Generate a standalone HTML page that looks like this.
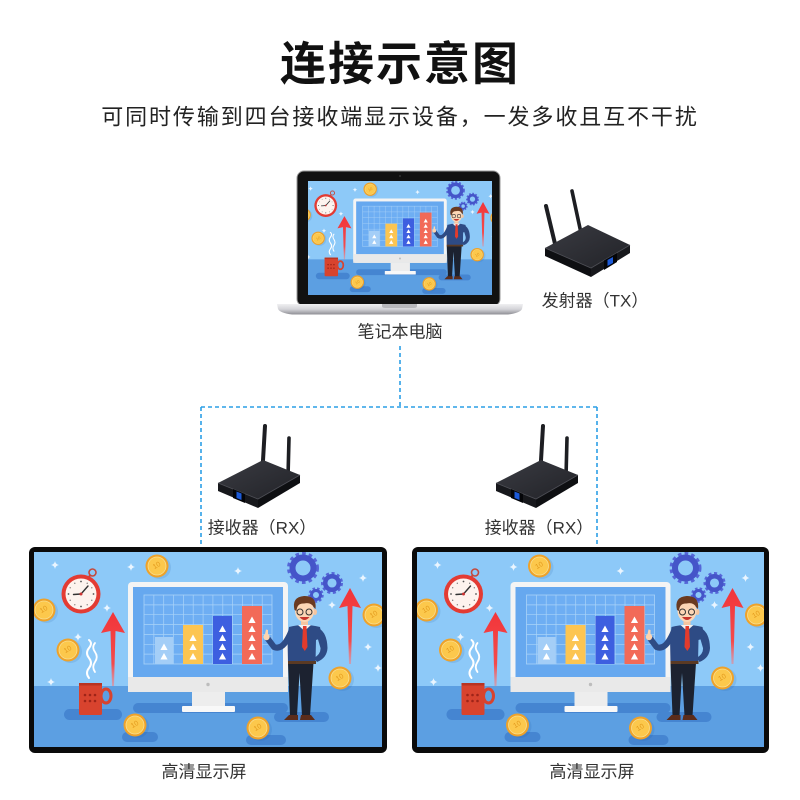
<!DOCTYPE html>
<html><head><meta charset="utf-8"><style>
html,body{margin:0;padding:0;background:#fff;}
svg{display:block;}
text{font-family:"Liberation Sans","Noto Sans CJK SC",sans-serif;}
</style></head><body>
<svg width="800" height="800" viewBox="0 0 800 800" xmlns="http://www.w3.org/2000/svg">
<defs>
  <linearGradient id="arr" x1="0" y1="0" x2="0" y2="1">
    <stop offset="0" stop-color="#f2353a"/><stop offset="0.7" stop-color="#f44a4a"/><stop offset="1" stop-color="#f77" stop-opacity="0.5"/>
  </linearGradient>
  <linearGradient id="rtop" x1="0" y1="0" x2="1" y2="1">
    <stop offset="0" stop-color="#3a3b42"/><stop offset="1" stop-color="#222328"/>
  </linearGradient>
  <linearGradient id="silver" x1="0" y1="0" x2="0" y2="1">
    <stop offset="0" stop-color="#f0f0f2"/><stop offset="0.5" stop-color="#d4d4d8"/><stop offset="1" stop-color="#8e8e94"/>
  </linearGradient>
  <path id="spk" d="M0 -4 Q0.6 -0.6 4 0 Q0.6 0.6 0 4 Q-0.6 0.6 -4 0 Q-0.6 -0.6 0 -4Z" fill="#eaf5ff"/>
  <path id="tri" d="M0 -3.5 L3.6 3 L-3.6 3Z" fill="#fff"/>
  <g id="coin">
    <circle cx="2.5" cy="1.5" r="11.5" fill="#1b4f9a" opacity="0.12"/>
    <circle r="11.5" fill="#eea22a"/>
    <circle r="9" fill="#fcc84c" stroke="#f8df90" stroke-width="0.8"/>
    <text x="0" y="0" font-size="7" fill="#e39a1d" text-anchor="middle" dominant-baseline="central" transform="rotate(-30)">10</text>
  </g>
  <g id="rx">
    <line x1="47" y1="1" x2="44.5" y2="44" stroke="#1d1e22" stroke-width="4" stroke-linecap="round"/>
    <line x1="71" y1="13" x2="70" y2="52" stroke="#1d1e22" stroke-width="3.6" stroke-linecap="round"/>
    <polygon points="0,58 40,74 40,83 0,66" fill="#17181c"/>
    <polygon points="40,74 82,50 82,58 40,83" fill="#0e0f12"/>
    <polygon points="0,58 45,35 82,50 40,74" fill="url(#rtop)"/>
    <polyline points="0,58 40,74 82,50" stroke="#4d4e55" stroke-width="0.8" fill="none"/>
    <polygon points="15,64 27,69 27,78 15,73" fill="#040508"/>
    <polygon points="18.5,66.5 23.5,68.5 23.5,75 18.5,73" fill="#1c5ad8"/>
  </g>
  <symbol id="scene" viewBox="0 0 348 195" preserveAspectRatio="xMidYMid slice">
    <rect width="348" height="195" fill="#8dc9f8"/>
    <rect y="134" width="348" height="61" fill="#5c9fe2"/>
    <rect x="30" y="157" width="58" height="11" rx="5.5" fill="#4585d1"/>
    <rect x="99" y="151" width="155" height="10" rx="5" fill="#4585d1"/>
    <rect x="240" y="160" width="55" height="10" rx="5" fill="#4585d1"/>
    <rect x="88" y="180" width="36" height="10" rx="5" fill="#4585d1"/>
    <rect x="212" y="183" width="40" height="10" rx="5" fill="#4585d1"/>
    <!-- sparkles -->
    <use href="#spk" x="21" y="13"/><use href="#spk" x="97" y="15"/><use href="#spk" x="204" y="19"/>
    <use href="#spk" x="73" y="56"/><use href="#spk" x="17" y="130"/><use href="#spk" x="329" y="26"/>
    <use href="#spk" x="298" y="53"/><use href="#spk" x="334" y="95"/><use href="#spk" x="344" y="116"/>
    <use href="#spk" x="44" y="85"/>
    <!-- gears -->
    <g fill="none">
      <circle cx="269" cy="16" r="14" stroke="#5566d8" stroke-width="4" stroke-dasharray="3.5 3"/>
      <circle cx="269" cy="16" r="10.5" stroke="#4555c9" stroke-width="6"/>
      <circle cx="298" cy="31" r="9.5" stroke="#5566d8" stroke-width="3" stroke-dasharray="3 2.5"/>
      <circle cx="298" cy="31" r="6.8" stroke="#4555c9" stroke-width="4.5"/>
      <circle cx="282" cy="43" r="6.5" stroke="#5566d8" stroke-width="2.5" stroke-dasharray="2.5 2"/>
      <circle cx="282" cy="43" r="4.5" stroke="#4555c9" stroke-width="3"/>
    </g>
    <!-- coins -->
    <use href="#coin" x="123" y="14"/><use href="#coin" x="10" y="58"/><use href="#coin" x="34" y="98"/>
    <use href="#coin" x="101" y="173"/><use href="#coin" x="224" y="176"/><use href="#coin" x="306" y="126"/>
    <use href="#coin" x="340" y="63"/>
    <!-- clock -->
    <circle cx="58.5" cy="20.5" r="3.5" fill="none" stroke="#c4493c" stroke-width="1.6"/>
    <line x1="56" y1="23.5" x2="54.5" y2="25.5" stroke="#c4493c" stroke-width="2"/>
    <circle cx="47" cy="42" r="19.5" fill="#e33b33"/>
    <circle cx="47" cy="42" r="15.5" fill="#fdf3ee"/>
    <g fill="#555">
      <circle cx="47" cy="29.5" r="0.9"/><circle cx="47" cy="54.5" r="0.9"/><circle cx="34.5" cy="42" r="0.9"/><circle cx="59.5" cy="42" r="0.9"/>
      <circle cx="53.2" cy="31.2" r="0.6"/><circle cx="57.8" cy="35.8" r="0.6"/><circle cx="57.8" cy="48.2" r="0.6"/><circle cx="53.2" cy="52.8" r="0.6"/>
      <circle cx="40.8" cy="52.8" r="0.6"/><circle cx="36.2" cy="48.2" r="0.6"/><circle cx="36.2" cy="35.8" r="0.6"/><circle cx="40.8" cy="31.2" r="0.6"/>
    </g>
    <line x1="47" y1="42" x2="54" y2="34" stroke="#333" stroke-width="1.4" stroke-linecap="round"/>
    <line x1="47" y1="42" x2="39.5" y2="42.5" stroke="#333" stroke-width="1.4" stroke-linecap="round"/>
    <circle cx="47" cy="42" r="1.5" fill="#c33"/>
    <!-- arrows -->
    <polygon points="79,60 91,81 81.5,79 80,134 78,134 76.5,79 67,81" fill="url(#arr)"/>
    <polygon points="316,36 327,56 318.5,54 317,112 315,112 313.5,54 305,56" fill="url(#arr)"/>
    <!-- steam -->
    <path d="M55 126 q-4 -5 0 -10 q4 -5 0 -10 q-4 -5 0 -10 q4 -5 0 -8" stroke="#fff" stroke-width="2" fill="none" stroke-linecap="round"/>
    <path d="M61 120 q-3.5 -5 0 -10 q3.5 -5 0 -10 q-3.5 -5 0 -9" stroke="#fff" stroke-width="1.8" fill="none" stroke-linecap="round"/>
    <!-- mug -->
    <ellipse cx="72" cy="144" rx="5" ry="7" fill="none" stroke="#d8432e" stroke-width="3"/>
    <rect x="45" y="131" width="23" height="32" rx="1.5" fill="#d8432e"/>
    <rect x="45" y="131" width="23" height="2.5" fill="#b93422"/>
    <g fill="#9e2418">
      <circle cx="51" cy="143" r="1.3"/><circle cx="56" cy="143" r="1.3"/><circle cx="61" cy="143" r="1.3"/>
      <circle cx="51" cy="149" r="1.3"/><circle cx="56" cy="149" r="1.3"/><circle cx="61" cy="149" r="1.3"/>
    </g>
    <!-- monitor -->
    <rect x="94" y="30" width="160" height="110" rx="4" fill="#f4f4f4"/>
    <rect x="94" y="125" width="160" height="15" fill="#e9e9e9"/>
    <rect x="99" y="35" width="150" height="90" fill="#66a8ef"/>
    <circle cx="174" cy="132.5" r="1.7" fill="#bdbdbd"/>
    <rect x="158" y="140" width="33" height="14" fill="#ededed"/>
    <rect x="148" y="154" width="53" height="6" rx="1" fill="#f8f8f8"/>
    <rect x="110" y="43" width="128" height="69" fill="#6eaef3" stroke="#a9d3f8" stroke-width="0.8"/>
    <path d="M119.85 43V112M129.7 43V112M139.5 43V112M149.4 43V112M159.2 43V112M169.1 43V112M178.9 43V112M188.8 43V112M198.6 43V112M208.5 43V112M218.3 43V112M228.2 43V112M110 52.86H238M110 62.7H238M110 72.6H238M110 82.4H238M110 92.3H238M110 102.1H238" stroke="#a9d3f8" stroke-width="0.7" fill="none"/>
    <rect x="121" y="85" width="18" height="27" fill="#a4cef7"/>
    <rect x="149" y="73" width="20" height="39" fill="#fcc552"/>
    <rect x="179" y="64" width="19" height="48" fill="#3d5fe0"/>
    <rect x="208" y="54" width="20" height="58" fill="#f26a58"/>
    <use href="#tri" x="130" y="95"/><use href="#tri" x="130" y="104.5"/>
    <use href="#tri" x="159" y="86"/><use href="#tri" x="159" y="95"/><use href="#tri" x="159" y="104.5"/>
    <use href="#tri" x="188.5" y="77"/><use href="#tri" x="188.5" y="86"/><use href="#tri" x="188.5" y="95"/><use href="#tri" x="188.5" y="104.5"/>
    <use href="#tri" x="218" y="68"/><use href="#tri" x="218" y="77"/><use href="#tri" x="218" y="86"/><use href="#tri" x="218" y="95"/><use href="#tri" x="218" y="104.5"/>
    <!-- man -->
    <path d="M254 111 L256 164 L263 164 L265.5 121 L268 164 L276 164 L279.5 111Z" fill="#1c2230"/>
    <path d="M250 168 L264 168 L264 163 L255 163Z" fill="#5b2c1b"/>
    <path d="M266 168 L281 168 L277 163 L267 163Z" fill="#5b2c1b"/>
    <path d="M257 80 Q249 99 240 95 L234 87" stroke="#2e4b85" stroke-width="6" fill="none" stroke-linecap="round"/>
    <circle cx="232.5" cy="85" r="3.2" fill="#fcd4b0"/>
    <path d="M231 82 L232 77.5 L234 78 L234 83Z" fill="#fcd4b0"/>
    <path d="M284 76 Q293 80 293.5 96 Q293 106 283 110 L280 106 Q287 102 286.5 96 L283 84Z" fill="#2e4b85"/>
    <path d="M255 75 Q270 71 286 75 L288 86 L282 88 L281.5 111 L254 111 L253.5 86 Z" fill="#2e4b85"/>
    <rect x="254" y="109" width="28" height="3" fill="#5a3a24"/>
    <rect x="267" y="67" width="7" height="7" fill="#f5c5a0"/>
    <path d="M264 73 L270.5 79 L277 73Z" fill="#f2f2f2"/>
    <path d="M269 74 L272.5 74 L273.5 95 L270.8 99 L268 95Z" fill="#e23b2c"/>
    <ellipse cx="281" cy="60" rx="2" ry="3" fill="#f5c5a0"/>
    <ellipse cx="270.5" cy="59" rx="9.5" ry="11" fill="#fcd6b5"/>
    <path d="M260.5 58 Q257.5 45 270 44 Q283 43.5 281.5 57 L279.5 55 Q277 50 270 51.5 Q263 51 262.5 59Z" fill="#6a3a20"/>
    <circle cx="266" cy="60" r="3" fill="none" stroke="#333" stroke-width="1"/>
    <circle cx="275" cy="60" r="3" fill="none" stroke="#333" stroke-width="1"/>
    <path d="M265.5 65 Q270.5 71 275.5 65Z" fill="#c8362d"/>
  </symbol>
</defs>

<rect width="800" height="800" fill="#fff"/>

<!-- title -->
<text x="400" y="64" font-size="46" font-weight="bold" fill="#111" text-anchor="middle" dominant-baseline="central" letter-spacing="2">连接示意图</text>
<text x="400" y="117" font-size="22" fill="#222" text-anchor="middle" dominant-baseline="central" letter-spacing="1.9">可同时传输到四台接收端显示设备，一发多收且互不干扰</text>

<!-- laptop -->
<rect x="297" y="171" width="203" height="135" rx="7" fill="#111" stroke="#9a9a9a" stroke-width="1"/>
<use href="#scene" x="308" y="181" width="184" height="114"/>
<circle cx="400" cy="176" r="1" fill="#333"/>
<path d="M277 304 H523 L522 309 Q520 313 508 314.5 H292 Q280 313 278 309Z" fill="url(#silver)"/>
<path d="M382 304 H417 V306 Q417 308 414 308 H385 Q382 308 382 306Z" fill="#b8b8bc"/>
<text x="400" y="332" font-size="17" fill="#333" text-anchor="middle" dominant-baseline="central">笔记本电脑</text>

<!-- TX -->
<line x1="546" y1="206" x2="556" y2="248" stroke="#1d1e22" stroke-width="4" stroke-linecap="round"/>
<line x1="572" y1="191" x2="581" y2="233" stroke="#1d1e22" stroke-width="3.6" stroke-linecap="round"/>
<polygon points="545,248 591,268 591,277 545,256" fill="#0e0f12"/>
<polygon points="591,268 630,245 630,253 591,277" fill="#17181c"/>
<polygon points="545,248 588,225 630,245 591,268" fill="url(#rtop)"/>
<polyline points="545,248 591,268 630,245" stroke="#4d4e55" stroke-width="0.8" fill="none"/>
<polygon points="604,260.5 617,253 617,262 604,270" fill="#040508"/>
<polygon points="607.5,260 613,257 613,263 607.5,266" fill="#1c5ad8"/>
<text x="595" y="301" font-size="17" fill="#333" text-anchor="middle" dominant-baseline="central">发射器（TX）</text>

<!-- dashed connectors -->
<path d="M400 346 V407 M201 407 H597 M201 407 V547 M597 407 V547" stroke="#2c9fe6" stroke-width="1.6" stroke-dasharray="4 3" fill="none"/>

<!-- RX -->
<use href="#rx" x="218" y="425"/>
<use href="#rx" x="496" y="425"/>
<text x="262" y="528" font-size="17" fill="#333" text-anchor="middle" dominant-baseline="central">接收器（RX）</text>
<text x="539" y="528" font-size="17" fill="#333" text-anchor="middle" dominant-baseline="central">接收器（RX）</text>

<!-- monitors -->
<rect x="29" y="547" width="358" height="206" rx="6" fill="#0a0a0a"/>
<use href="#scene" x="34" y="552" width="348" height="195"/>
<rect x="412" y="547" width="357" height="206" rx="6" fill="#0a0a0a"/>
<use href="#scene" x="417" y="552" width="347" height="195"/>

<text x="204" y="772" font-size="17" fill="#333" text-anchor="middle" dominant-baseline="central">高清显示屏</text>
<text x="592" y="772" font-size="17" fill="#333" text-anchor="middle" dominant-baseline="central">高清显示屏</text>
</svg>
</body></html>
